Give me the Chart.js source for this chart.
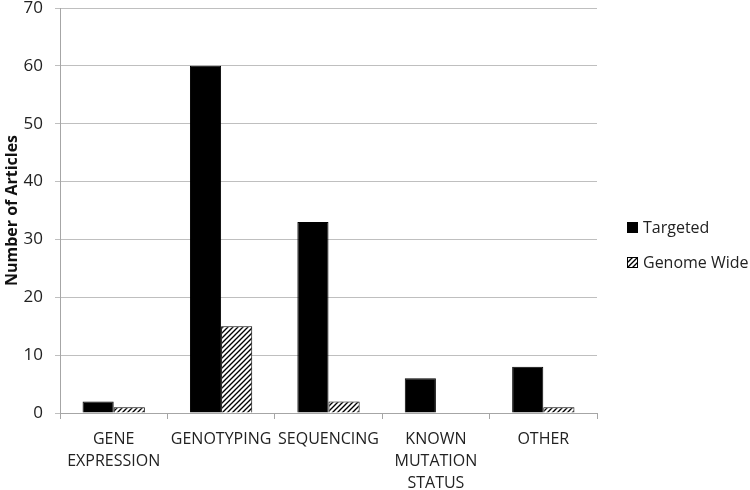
<!DOCTYPE html>
<html>
<head>
<meta charset="utf-8">
<script src="https://cdn.jsdelivr.net/npm/chart.js@4/dist/chart.umd.min.js"></script>
<style>
  html, body { margin: 0; padding: 0; background: #fff; }
  #wrap { width: 750px; height: 490px; position: relative; }
</style>
</head>
<body>
<div id="wrap"><canvas id="chart"></canvas></div>
<script>
    "use strict";

    // Data
    var categories = [
        ['GENE', 'EXPRESSION'],
        'GENOTYPING',
        'SEQUENCING',
        ['KNOWN', 'MUTATION', 'STATUS'],
        'OTHER'
    ];
    var targeted = [2, 60, 33, 6, 8];
    var genomeWide = [1, 15, 2, 0, 1];
    var seriesNames = ['Targeted', 'Genome Wide'];

    var FONT = "'Open Sans', 'Liberation Sans', sans-serif";

    // Diagonal hatch for the genome-wide bars
    function makeHatch() {
        var c = document.createElement('canvas');
        c.width = 5;
        c.height = 5;
        var g = c.getContext('2d');
        g.fillStyle = '#fff';
        g.fillRect(0, 0, 5, 5);
        g.strokeStyle = '#000';
        g.lineWidth = 1.35;
        g.beginPath();
        g.moveTo(-1, 6); g.lineTo(6, -1);
        g.moveTo(-4, 4); g.lineTo(4, -4);
        g.moveTo(1, 9); g.lineTo(9, 1);
        g.stroke();
        return g.createPattern(c, 'repeat');
    }

    // Legend drawn by hand so it sits where the original one does
    var sideLegend = {
        id: 'sideLegend',
        afterDraw: function (chart) {
            const c = chart.ctx;
            const area = chart.chartArea;
            const x = area.right + 30;
            const rowGap = 35;
            const sets = chart.data.datasets;
            const y0 = chart.height / 2 - rowGap * (sets.length - 1) / 2;
            c.save();
            c.font = '16px ' + FONT;
            c.textBaseline = 'middle';
            sets.forEach(function (ds, i) {
                const y = y0 + i * rowGap;
                c.fillStyle = ds.backgroundColor;
                c.fillRect(x, y - 5.5, 11, 11);
                c.strokeStyle = '#000';
                c.lineWidth = 1;
                c.strokeRect(x + 0.5, y - 5, 10, 10);
                c.fillStyle = '#222';
                c.fillText(ds.label, x + 16, y + 1);
            });
            c.restore();
        }
    };

    var ctx = document.getElementById('chart').getContext('2d');
    var hatch = makeHatch();

    new Chart(ctx, {
        type: 'bar',
        data: {
            labels: categories,
            datasets: [{
                label: seriesNames[0],
                data: targeted,
                backgroundColor: '#000',
                borderColor: '#000',
                borderWidth: 1
            }, {
                label: seriesNames[1],
                data: genomeWide,
                backgroundColor: hatch,
                borderColor: '#000',
                borderWidth: 1
            }]
        },
        plugins: [sideLegend],
        options: {
            responsive: true,
            maintainAspectRatio: false,
            animation: false,
            categoryPercentage: 0.58,
            barPercentage: 1.0,
            layout: { padding: { top: 8, right: 153, left: 0, bottom: 0 } },
            plugins: {
                tooltip: { enabled: false },
                legend: { display: false }
            },
            scales: {
                x: {
                    afterFit: function (scale) { scale.height = 77; },
                    grid: {
                        display: true,
                        drawOnChartArea: false,
                        drawTicks: true,
                        tickLength: 6,
                        color: '#a6a6a6'
                    },
                    border: { color: '#a6a6a6' },
                    ticks: {
                        color: '#222',
                        font: { family: FONT, size: 16, lineHeight: 1.375 },
                        maxRotation: 0,
                        autoSkip: false,
                        padding: 9
                    }
                },
                y: {
                    min: 0,
                    max: 70,
                    afterFit: function (scale) {
                        scale.width = 60;
                        scale.paddingTop = 0;
                        scale.paddingBottom = 0;
                    },
                    ticks: {
                        stepSize: 10,
                        color: '#222',
                        font: { family: FONT, size: 17 },
                        padding: 12
                    },
                    grid: { color: '#bfbfbf', tickLength: 5 },
                    border: { color: '#a6a6a6' },
                    title: {
                        display: true,
                        text: 'Number of Articles',
                        color: '#111',
                        font: { family: FONT, size: 16, weight: 'bold' },
                        padding: 3
                    }
                }
            }
        }
    });
</script>
</body>
</html>
